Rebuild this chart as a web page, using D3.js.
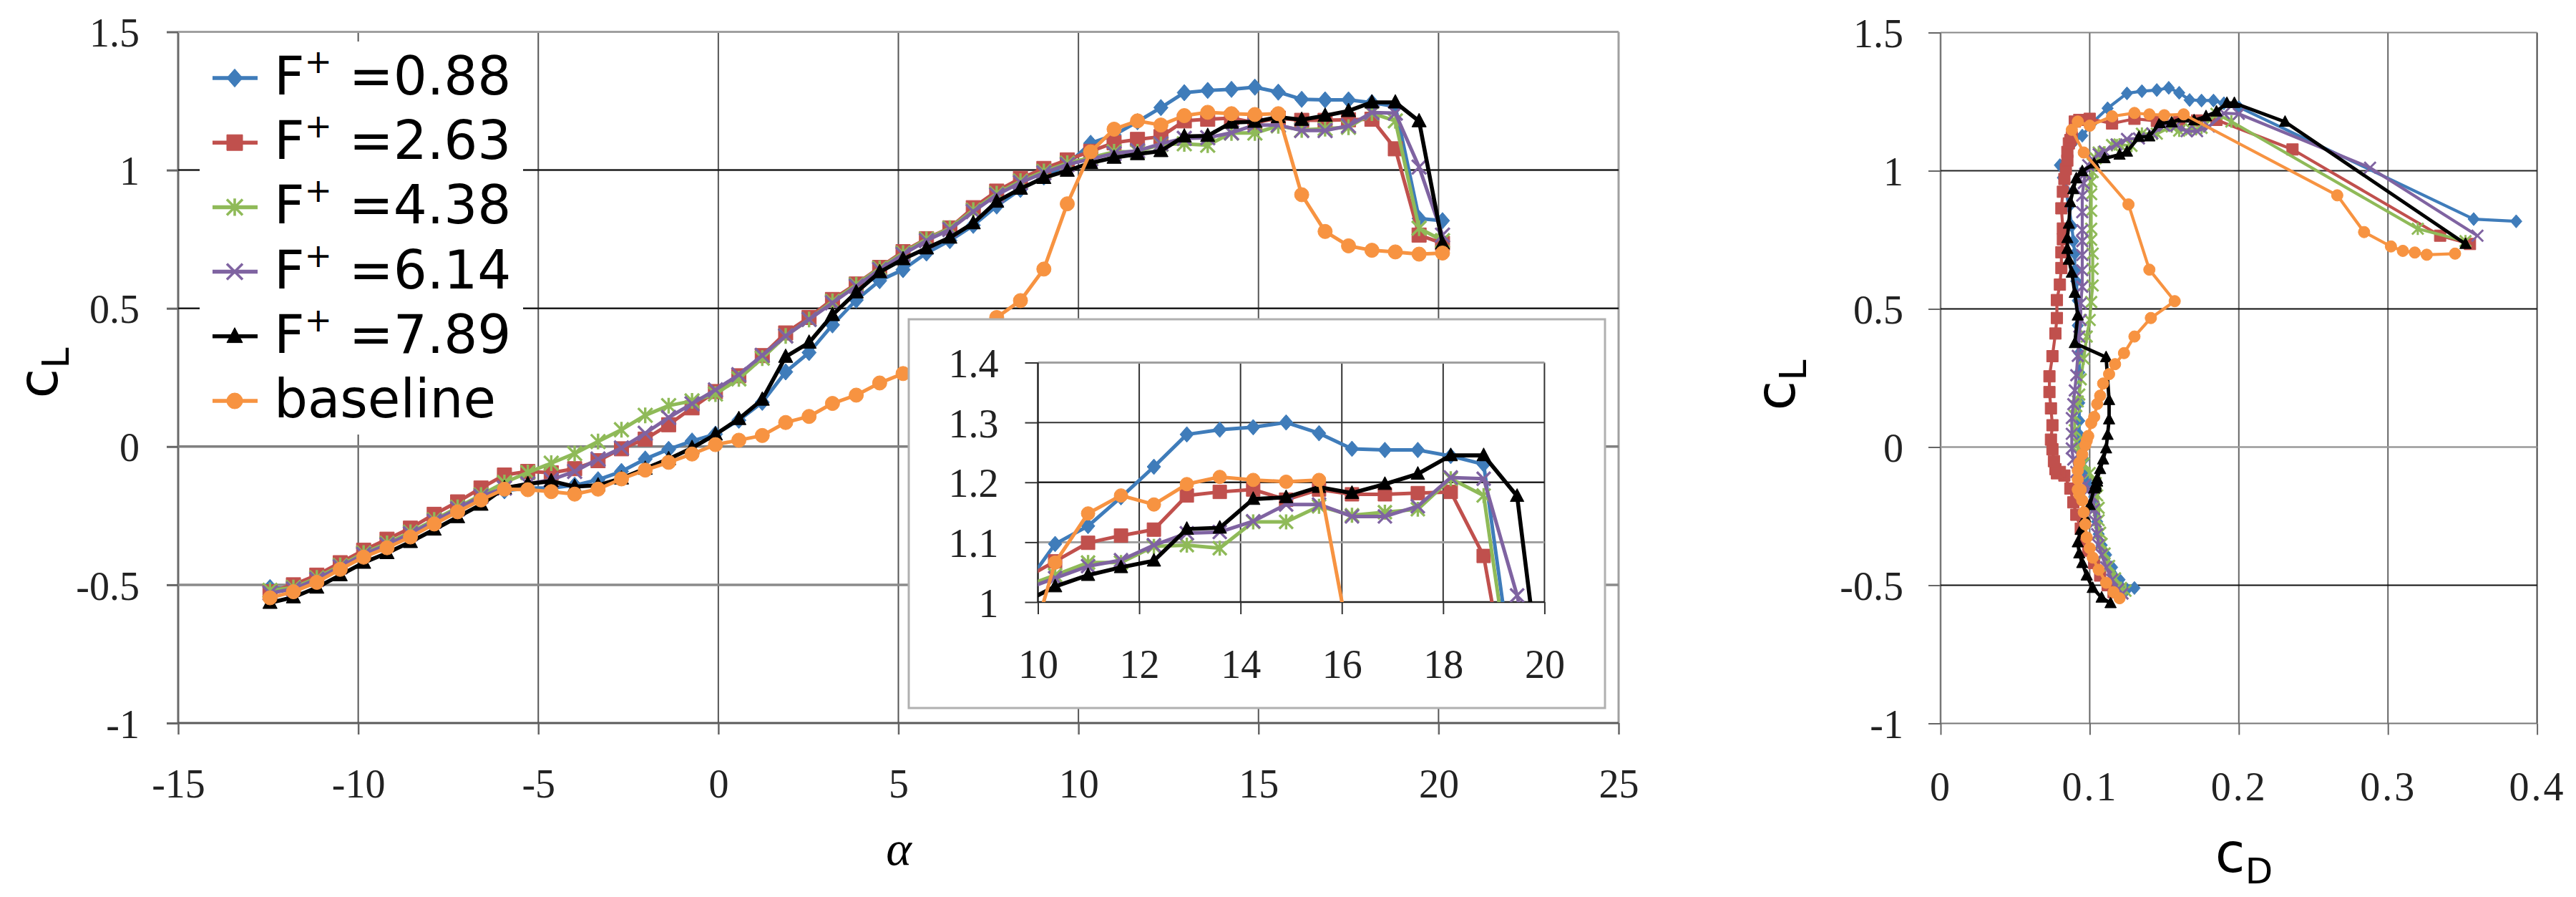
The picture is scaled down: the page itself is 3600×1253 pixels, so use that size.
<!DOCTYPE html>
<html><head><meta charset="utf-8">
<script src="https://cdn.jsdelivr.net/npm/d3@7"></script>
<style>body{margin:0;background:#fff} svg{display:block}</style>
</head><body>
<svg id="c" width="3600" height="1253"></svg>
<script>
// ---------------- DATA ----------------
const alpha = [-12.45,-11.80,-11.15,-10.50,-9.85,-9.20,-8.55,-7.89,-7.24,-6.59,-5.94,-5.29,-4.64,-3.99,-3.34,-2.69,-2.03,-1.38,-0.73,-0.08,0.57,1.22,1.87,2.52,3.17,3.83,4.48,5.13,5.78,6.43,7.08,7.73,8.39,9.04,9.69,10.34,10.99,11.64,12.29,12.94,13.59,14.25,14.90,15.55,16.20,16.85,17.50,18.15,18.80,19.46,20.11];

const clF088 = [-0.51,-0.515,-0.48,-0.435,-0.39,-0.355,-0.315,-0.27,-0.225,-0.18,-0.16,-0.15,-0.15,-0.14,-0.12,-0.09,-0.045,-0.01,0.02,0.045,0.095,0.16,0.27,0.34,0.44,0.53,0.60,0.64,0.70,0.745,0.80,0.87,0.93,0.975,1.02,1.097,1.127,1.175,1.226,1.28,1.288,1.292,1.30,1.282,1.256,1.254,1.254,1.244,1.23,0.825,0.817];
const cdF088 = [0.13,0.125,0.12,0.115,0.111,0.108,0.106,0.105,0.104,0.103,0.102,0.101,0.1,0.099,0.098,0.097,0.096,0.095,0.094,0.093,0.093,0.093,0.093,0.093,0.092,0.092,0.091,0.09,0.09,0.089,0.088,0.086,0.084,0.082,0.08,0.088,0.095,0.102,0.112,0.125,0.135,0.145,0.153,0.16,0.167,0.175,0.183,0.19,0.2,0.3575,0.386];

const clF263 = [-0.525,-0.50,-0.465,-0.42,-0.375,-0.335,-0.295,-0.245,-0.20,-0.15,-0.103,-0.09,-0.095,-0.08,-0.051,-0.008,0.027,0.079,0.14,0.199,0.256,0.329,0.411,0.467,0.532,0.588,0.648,0.705,0.752,0.791,0.864,0.924,0.97,1.006,1.037,1.068,1.099,1.111,1.121,1.178,1.184,1.188,1.171,1.188,1.18,1.18,1.182,1.184,1.077,0.765,0.735];
const cdF263 = [0.116,0.112,0.107,0.103,0.099,0.096,0.094,0.091,0.089,0.087,0.083,0.08,0.078,0.077,0.076,0.075,0.074,0.075,0.074,0.073,0.073,0.075,0.077,0.078,0.078,0.08,0.081,0.081,0.082,0.082,0.081,0.082,0.083,0.084,0.085,0.085,0.086,0.087,0.088,0.09,0.093,0.1,0.115,0.13,0.145,0.16,0.172,0.185,0.236,0.335,0.355];

const clF438 = [-0.52,-0.51,-0.475,-0.43,-0.385,-0.35,-0.31,-0.265,-0.22,-0.175,-0.13,-0.094,-0.06,-0.025,0.018,0.061,0.113,0.148,0.165,0.19,0.245,0.32,0.40,0.46,0.525,0.585,0.645,0.70,0.75,0.79,0.855,0.915,0.96,0.995,1.025,1.045,1.066,1.066,1.093,1.095,1.09,1.134,1.134,1.16,1.145,1.15,1.155,1.206,1.178,0.79,0.745];
const cdF438 = [0.124,0.121,0.117,0.113,0.11,0.108,0.107,0.106,0.106,0.105,0.104,0.1,0.096,0.093,0.091,0.09,0.09,0.091,0.092,0.093,0.094,0.096,0.098,0.1,0.101,0.102,0.102,0.102,0.101,0.101,0.101,0.101,0.101,0.102,0.102,0.104,0.106,0.11,0.115,0.12,0.128,0.135,0.145,0.155,0.16,0.168,0.175,0.185,0.195,0.32,0.352];

const clF614 = [-0.53,-0.515,-0.48,-0.435,-0.39,-0.355,-0.315,-0.27,-0.225,-0.18,-0.15,-0.135,-0.12,-0.09,-0.045,-0.005,0.048,0.105,0.155,0.205,0.26,0.33,0.40,0.46,0.52,0.58,0.64,0.695,0.745,0.785,0.85,0.91,0.955,0.99,1.02,1.04,1.06,1.07,1.095,1.115,1.117,1.135,1.163,1.163,1.143,1.143,1.16,1.208,1.206,1.011,0.765];
const cdF614 = [0.122,0.119,0.115,0.111,0.108,0.106,0.105,0.104,0.103,0.102,0.1,0.097,0.094,0.091,0.089,0.088,0.088,0.088,0.089,0.09,0.091,0.092,0.093,0.094,0.094,0.095,0.095,0.095,0.095,0.095,0.095,0.095,0.096,0.097,0.099,0.102,0.106,0.11,0.118,0.125,0.133,0.142,0.15,0.158,0.165,0.172,0.18,0.19,0.2,0.288,0.36];

const clF789 = [-0.565,-0.545,-0.51,-0.465,-0.42,-0.385,-0.345,-0.30,-0.255,-0.21,-0.15,-0.135,-0.125,-0.145,-0.14,-0.115,-0.08,-0.045,-0.005,0.044,0.10,0.17,0.325,0.376,0.476,0.558,0.631,0.678,0.717,0.756,0.808,0.886,0.933,0.972,0.998,1.026,1.045,1.058,1.069,1.122,1.124,1.172,1.175,1.192,1.182,1.197,1.214,1.245,1.245,1.177,0.735];
const cdF789 = [0.114,0.108,0.102,0.098,0.095,0.093,0.092,0.094,0.097,0.1,0.103,0.104,0.105,0.104,0.104,0.105,0.107,0.109,0.111,0.112,0.113,0.113,0.111,0.09,0.092,0.09,0.088,0.086,0.085,0.085,0.086,0.087,0.089,0.091,0.095,0.103,0.11,0.12,0.125,0.133,0.14,0.147,0.155,0.163,0.17,0.178,0.185,0.192,0.197,0.231,0.352];

const clBase = [-0.547,-0.525,-0.491,-0.444,-0.40,-0.366,-0.327,-0.28,-0.236,-0.193,-0.154,-0.156,-0.163,-0.172,-0.154,-0.117,-0.085,-0.057,-0.027,0.007,0.023,0.04,0.087,0.109,0.156,0.186,0.23,0.264,0.30,0.34,0.40,0.467,0.528,0.642,0.878,1.066,1.148,1.178,1.163,1.197,1.209,1.204,1.201,1.204,0.911,0.778,0.726,0.71,0.704,0.696,0.70];
const cdBase = [0.12,0.116,0.111,0.106,0.102,0.1,0.098,0.097,0.096,0.095,0.094,0.093,0.093,0.093,0.092,0.092,0.092,0.093,0.095,0.097,0.098,0.099,0.101,0.103,0.105,0.107,0.109,0.113,0.117,0.123,0.13,0.141,0.157,0.14,0.126,0.096,0.088,0.092,0.1,0.115,0.13,0.14,0.15,0.163,0.266,0.284,0.302,0.31,0.318,0.326,0.345];

const seriesValues = ["0.88","2.63","4.38","6.14","7.89"];
const baselineLabel = "baseline";
const mainXTicks = [-15,-10,-5,0,5,10,15,20,25];
const clTicks = [-1,-0.5,0,0.5,1,1.5];
const insetXTicks = [10,12,14,16,18,20];
const insetYTicks = [1,1.1,1.2,1.3,1.4];
const cdTicks = [0,0.1,0.2,0.3,0.4];

// ---------------- STYLE ----------------
const styles = [
  {color:'#3f7cba', marker:'diamond'},
  {color:'#c0504d', marker:'square'},
  {color:'#8fba58', marker:'star'},
  {color:'#7f63a1', marker:'x'},
  {color:'#000000', marker:'triangle'},
  {color:'#f79341', marker:'circle'}
];
const clArrays = [clF088, clF263, clF438, clF614, clF789, clBase];
const cdArrays = [cdF088, cdF263, cdF438, cdF614, cdF789, cdBase];
const series = clArrays.map((cl,k)=>({cl, cd:cdArrays[k], style:styles[k]}));

const SERIF = "'Liberation Serif','Times New Roman',serif";
const SANS = "'DejaVu Sans',sans-serif";

function markerPath(type, s){
  const h=s/2;
  switch(type){
    case 'diamond': return `M0,${-h*1.15}L${h},0L0,${h*1.15}L${-h},0Z`;
    case 'square': return `M${-h},${-h}h${s}v${s}h${-s}Z`;
    case 'triangle': return `M0,${-h*1.1}L${h},${h*0.8}L${-h},${h*0.8}Z`;
    case 'circle': return `M${-h},0a${h},${h} 0 1,0 ${s},0a${h},${h} 0 1,0 ${-s},0Z`;
    case 'x': return `M${-h},${-h}L${h},${h}M${-h},${h}L${h},${-h}`;
    case 'star': return `M${-h},${-h}L${h},${h}M${-h},${h}L${h},${-h}M0,${-h*1.1}L0,${h*1.1}`;
  }
}
function styleMarker(sel, st, sw){
  if(st.marker==='x' || st.marker==='star'){
    sel.attr('fill','none').attr('stroke',st.color).attr('stroke-width',sw||3.2);
  } else {
    sel.attr('fill',st.color).attr('stroke',st.color).attr('stroke-width',1);
  }
}

const svg = d3.select('#c');
svg.append('rect').attr('width',3600).attr('height',1253).attr('fill','#fff');

// ---------------- SCALES ----------------
const xM = d3.scaleLinear().domain([-15,25]).range([249,2262]);
const yM = d3.scaleLinear().domain([-1,1.5]).range([1010,44.5]);
const xI = d3.scaleLinear().domain([10,20]).range([1450.5,2158.4]);
const yI = d3.scaleLinear().domain([1,1.4]).range([841,506.5]);
const xR = d3.scaleLinear().domain([0,0.4]).range([2712,3545.6]);
const yR = d3.scaleLinear().domain([-1,1.5]).range([1010.5,45.5]);

function hLines(g, ys, ticks, x0, x1, sty){
  ticks.forEach(t=>{ const s=sty(t); g.append('line').attr('x1',x0).attr('x2',x1).attr('y1',ys(t)).attr('y2',ys(t)).attr('stroke',s[0]).attr('stroke-width',s[1]); });
}
function vLines(g, xs, ticks, y0, y1, sty){
  ticks.forEach(t=>{ const s=sty(t); g.append('line').attr('y1',y0).attr('y2',y1).attr('x1',xs(t)).attr('x2',xs(t)).attr('stroke',s[0]).attr('stroke-width',s[1]); });
}
function styleAxis(g, fs, color, tickColor, tickW, ls){
  g.select('.domain').remove();
  g.attr('font-family',SERIF).attr('font-size',fs);
  g.selectAll('.tick line').attr('stroke',tickColor).attr('stroke-width',tickW);
  g.selectAll('.tick text').attr('fill',color).style('letter-spacing', ls||'0px');
}
function drawSeries(g, xs, ys, xAcc, size, lw, msw){
  series.forEach(s=>{
    const idx = d3.range(s.cl.length);
    const line = d3.line().x(i=>xs(xAcc(s,i))).y(i=>ys(s.cl[i]));
    g.append('path').attr('d', line(idx)).attr('fill','none')
      .attr('stroke', s.style.color).attr('stroke-width', s.style.marker==='triangle' ? lw+0.6 : lw).attr('stroke-linejoin','round');
    const m = g.append('g').selectAll('path').data(idx).join('path')
      .attr('transform', i=>`translate(${xs(xAcc(s,i))},${ys(s.cl[i])})`)
      .attr('d', markerPath(s.style.marker, size));
    styleMarker(m, s.style, msw);
  });
}
const fmt = d => String(d);

// ---------------- MAIN CHART ----------------
const gM = svg.append('g');
vLines(gM, xM, mainXTicks, 44.5, 1010, t => t===-15 ? ['#6a6a6a',3] : (t===25 ? ['#a0a0a0',3] : ['#555',2]));
const hMainStyle = {'1.5':['#a0a0a0',3],'1':['#1c1c1c',2.5],'0.5':['#1c1c1c',2.5],'0':['#808080',3.5],'-0.5':['#8a8a8a',3.5],'-1':['#5a5a5a',3]};
hLines(gM, yM, clTicks, 249, 2262, t => hMainStyle[String(t)]);

const axMY = gM.append('g').attr('transform','translate(249,0)')
  .call(d3.axisLeft(yM).tickValues(clTicks).tickSize(16).tickPadding(38).tickFormat(fmt));
styleAxis(axMY, 56, '#222', '#666', 3);
axMY.selectAll('.tick text').attr('dy','0.36em');
const axMX = gM.append('g').attr('transform','translate(0,1010)')
  .call(d3.axisBottom(xM).tickValues(mainXTicks).tickSize(16).tickPadding(48).tickFormat(fmt));
styleAxis(axMX, 56, '#222', '#666', 2.5);

drawSeries(gM.append('g'), xM, yM, (s,i)=>alpha[i], 20, 5, 3.4);

// legend
const gL = svg.append('g');
gL.append('rect').attr('x',279).attr('y',58).attr('width',452).attr('height',549).attr('fill','#fff');
const legendRows = seriesValues.concat([baselineLabel]);
legendRows.forEach((lab,k)=>{
  const by = 132 + k*90.2;
  const my = by - 23;
  const st = styles[k];
  gL.append('line').attr('x1',297).attr('x2',360).attr('y1',my).attr('y2',my).attr('stroke',st.color).attr('stroke-width',5.5);
  const mk = gL.append('path').attr('transform',`translate(328,${my})`).attr('d',markerPath(st.marker,22));
  styleMarker(mk, st, 3.6);
  const t = gL.append('text').attr('x',383).attr('y',by).attr('font-family',SANS).attr('font-size',74).attr('fill','#000');
  if(k<5){
    t.append('tspan').text('F');
    t.append('tspan').attr('font-size',46).attr('dy',-30).text('+');
    t.append('tspan').attr('dy',30).text(' =' + lab);
  } else {
    t.text(lab);
  }
});

// axis titles main
const tCL = svg.append('text').attr('transform','translate(80,521) rotate(-90)').attr('text-anchor','middle')
  .attr('font-family',SANS).attr('font-size',76).attr('fill','#000');
tCL.append('tspan').text('c');
tCL.append('tspan').attr('font-size',52).attr('dy',16).text('L');
svg.append('text').attr('x',1256).attr('y',1208).attr('text-anchor','middle')
  .attr('font-family',SERIF).attr('font-style','italic').attr('font-size',68).attr('fill','#000').text('α');

// ---------------- INSET ----------------
const gI = svg.append('g');
gI.append('rect').attr('x',1270).attr('y',446).attr('width',973).attr('height',543)
  .attr('fill','#fff').attr('stroke','#b0b0b0').attr('stroke-width',3);
vLines(gI, xI, insetXTicks.slice(1), 506.5, 841, t => ['#333',2]);
const hInStyle = {'1.4':['#a0a0a0',3],'1.3':['#333',2],'1.2':['#222',2.5],'1.1':['#a0a0a0',3],'1':['#222',2.5]};
hLines(gI, yI, insetYTicks, 1450.5, 2158.4, t => hInStyle[String(t)]);
gI.append('line').attr('x1',1450.5).attr('x2',1450.5).attr('y1',506.5).attr('y2',841).attr('stroke','#222').attr('stroke-width',2.5);
const axIY = gI.append('g').attr('transform','translate(1450.5,0)')
  .call(d3.axisLeft(yI).tickValues(insetYTicks).tickSize(18).tickPadding(37).tickFormat(d=>d===1?'1':d.toFixed(1)));
styleAxis(axIY, 56, '#222', '#333', 2);
axIY.selectAll('.tick text').attr('dy','0.36em');
const axIX = gI.append('g').attr('transform','translate(0,841)')
  .call(d3.axisBottom(xI).tickValues(insetXTicks).tickSize(17).tickPadding(49).tickFormat(fmt));
styleAxis(axIX, 56, '#222', '#333', 2);

svg.append('defs').append('clipPath').attr('id','clipInset').append('rect')
  .attr('x',1450.5).attr('y',506.5).attr('width',707.9).attr('height',334.5);
drawSeries(gI.append('g').attr('clip-path','url(#clipInset)'), xI, yI, (s,i)=>alpha[i], 19, 5, 3.4);

// ---------------- RIGHT CHART ----------------
const gR = svg.append('g');
vLines(gR, xR, cdTicks, 45.5, 1010.5, t => t===0 ? ['#777',2.5] : (t===0.4 ? ['#444',2] : ['#666',2]));
const hRStyle = {'1.5':['#888',2],'1':['#222',2],'0.5':['#111',2],'0':['#9a9a9a',2.5],'-0.5':['#111',2],'-1':['#777',2]};
hLines(gR, yR, clTicks, 2712, 3545.6, t => hRStyle[String(t)]);
const axRY = gR.append('g').attr('transform','translate(2712,0)')
  .call(d3.axisLeft(yR).tickValues(clTicks).tickSize(17).tickPadding(35).tickFormat(fmt));
styleAxis(axRY, 56, '#222', '#666', 2);
axRY.selectAll('.tick text').attr('dy','0.36em');
const axRX = gR.append('g').attr('transform','translate(0,1010.5)')
  .call(d3.axisBottom(xR).tickValues(cdTicks).tickSize(16).tickPadding(52).tickFormat(d=>d===0?'0':d.toFixed(1)));
styleAxis(axRX, 56, '#222', '#666', 2, '3px');

drawSeries(gR.append('g'), xR, yR, (s,i)=>s.cd[i], 16, 4.2, 3);

const tCL2 = svg.append('text').attr('transform','translate(2508,538) rotate(-90)').attr('text-anchor','middle')
  .attr('font-family',SANS).attr('font-size',76).attr('fill','#000');
tCL2.append('tspan').text('c');
tCL2.append('tspan').attr('font-size',52).attr('dy',16).text('L');
const tCD = svg.append('text').attr('x',3136).attr('y',1218).attr('text-anchor','middle')
  .attr('font-family',SANS).attr('font-size',76).attr('fill','#000');
tCD.append('tspan').text('c');
tCD.append('tspan').attr('font-size',50).attr('dy',16).text('D');
</script>
</body></html>
